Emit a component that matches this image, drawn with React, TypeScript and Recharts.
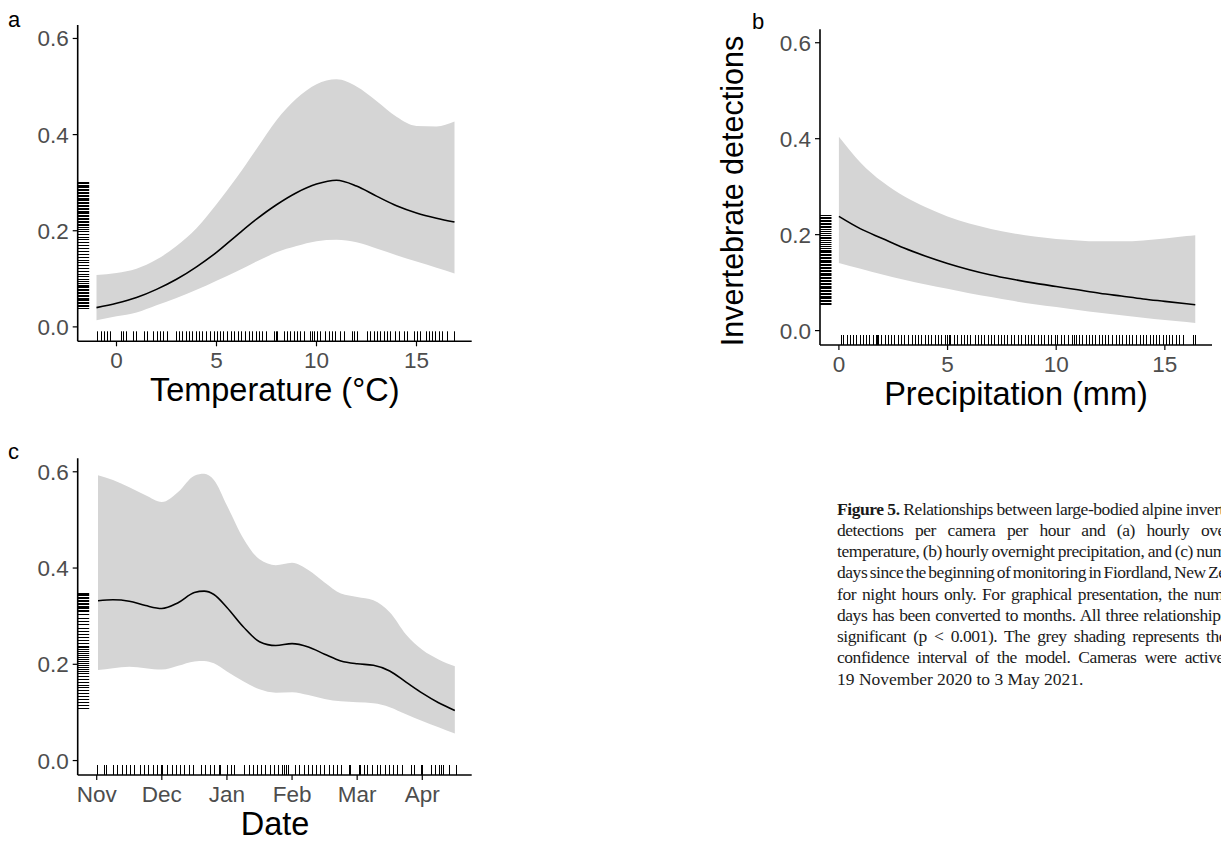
import React from 'react';
import { ComposedChart, Area, Line, Scatter, XAxis, YAxis } from 'recharts';

// ---------- Panel a : Temperature ----------
const tempX = [-1, 0, 1, 2, 3, 4, 5, 6, 7, 8, 9, 10, 11, 12, 13, 14, 15, 16, 16.9];
const tempMean = [0.040, 0.049, 0.061, 0.078, 0.099, 0.125, 0.155, 0.190, 0.224, 0.254, 0.279, 0.297, 0.305, 0.293, 0.272, 0.252, 0.237, 0.226, 0.218];
const tempUpper = [0.108, 0.112, 0.121, 0.140, 0.168, 0.205, 0.255, 0.310, 0.370, 0.430, 0.475, 0.505, 0.515, 0.500, 0.470, 0.437, 0.418, 0.417, 0.427];
const tempLower = [0.014, 0.022, 0.030, 0.045, 0.060, 0.077, 0.096, 0.115, 0.136, 0.155, 0.168, 0.178, 0.181, 0.176, 0.163, 0.149, 0.136, 0.123, 0.111];
const tempTicks = [0, 5, 10, 15];
const tempRugX = [-0.97, -0.77, -0.63, -0.5, -0.33, 0.2, 0.33, 0.47, 0.83, 0.95, 1.37, 1.53, 1.83, 2.03, 2.17, 2.33, 2.5, 2.95, 3.12, 3.28, 3.45, 3.62, 3.78, 3.95, 4.12, 4.28, 4.45, 4.67, 4.87, 5.03, 5.17, 5.33, 5.53, 5.7, 5.87, 6.07, 6.23, 6.45, 6.62, 6.78, 6.95, 7.12, 7.28, 7.45, 7.9, 7.97, 8.03, 8.37, 8.53, 8.7, 8.87, 9.03, 9.2, 9.37, 9.7, 9.78, 9.87, 10.03, 10.2, 10.45, 10.62, 10.78, 10.95, 11.2, 11.37, 11.78, 11.87, 12.03, 12.53, 12.7, 12.87, 13.03, 13.2, 13.37, 13.53, 13.7, 13.95, 14.12, 14.37, 14.53, 14.87, 15.03, 15.2, 15.45, 15.62, 15.78, 15.95, 16.12, 16.28, 16.53, 16.87];
const tempRugY = [0.040, 0.043, 0.046, 0.049, 0.052, 0.055, 0.058, 0.061, 0.064, 0.067, 0.070, 0.073, 0.076, 0.079, 0.082, 0.085, 0.088, 0.091, 0.095, 0.100, 0.105, 0.110, 0.116, 0.122, 0.128, 0.134, 0.140, 0.146, 0.152, 0.158, 0.164, 0.170, 0.176, 0.182, 0.188, 0.194, 0.200, 0.204, 0.208, 0.212, 0.215, 0.218, 0.221, 0.224, 0.227, 0.230, 0.233, 0.236, 0.239, 0.242, 0.245, 0.248, 0.251, 0.254, 0.257, 0.260, 0.263, 0.266, 0.269, 0.272, 0.275, 0.278, 0.281, 0.284, 0.287, 0.290, 0.293, 0.296, 0.299, 0.302];

// ---------- Panel b : Precipitation ----------
const precX = [0, 1, 2, 3, 4, 5, 6, 7, 8, 9, 10, 11, 12, 13, 14, 15, 16, 16.4];
const precMean = [0.238, 0.212, 0.192, 0.172, 0.155, 0.140, 0.127, 0.116, 0.107, 0.099, 0.092, 0.085, 0.078, 0.072, 0.066, 0.061, 0.056, 0.054];
const precUpper = [0.404, 0.350, 0.310, 0.280, 0.257, 0.238, 0.223, 0.212, 0.203, 0.196, 0.191, 0.188, 0.186, 0.186, 0.188, 0.192, 0.197, 0.199];
const precLower = [0.141, 0.129, 0.117, 0.106, 0.096, 0.087, 0.078, 0.070, 0.062, 0.055, 0.049, 0.043, 0.037, 0.032, 0.027, 0.022, 0.018, 0.016];
const precTicks = [0, 5, 10, 15];
const precRugX = [0.08, 0.2, 0.35, 0.5, 0.65, 0.8, 0.95, 1.1, 1.25, 1.4, 1.55, 1.7, 1.74, 1.78, 1.95, 2.1, 2.25, 2.4, 2.55, 2.7, 2.85, 3.0, 3.2, 3.35, 3.5, 3.65, 3.8, 3.95, 4.1, 4.25, 4.4, 4.55, 4.7, 4.9, 4.97, 5.05, 5.12, 5.3, 5.45, 5.6, 5.75, 5.9, 6.05, 6.25, 6.4, 6.55, 6.7, 6.85, 7.0, 7.15, 7.3, 7.45, 7.6, 7.75, 7.9, 8.05, 8.25, 8.4, 8.55, 8.7, 8.85, 9.0, 9.15, 9.3, 9.45, 9.6, 9.75, 9.95, 10.05, 10.2, 10.35, 10.55, 10.75, 10.82, 10.9, 11.05, 11.2, 11.35, 11.5, 11.65, 11.8, 11.95, 12.1, 12.25, 12.4, 12.55, 12.75, 12.9, 13.05, 13.2, 13.35, 13.5, 13.65, 13.85, 14.0, 14.15, 14.3, 14.45, 14.6, 14.75, 14.9, 15.05, 15.2, 15.35, 15.5, 15.65, 15.85, 16.3, 16.4];
const precRugY = [0.055, 0.058, 0.061, 0.064, 0.067, 0.070, 0.073, 0.076, 0.079, 0.082, 0.085, 0.088, 0.091, 0.094, 0.097, 0.100, 0.103, 0.106, 0.109, 0.112, 0.115, 0.118, 0.121, 0.124, 0.127, 0.130, 0.133, 0.136, 0.139, 0.142, 0.145, 0.148, 0.151, 0.154, 0.157, 0.160, 0.163, 0.166, 0.169, 0.172, 0.176, 0.180, 0.184, 0.188, 0.192, 0.196, 0.200, 0.204, 0.208, 0.212, 0.216, 0.219, 0.222, 0.225, 0.228, 0.231, 0.234, 0.237, 0.240];

// ---------- Panel c : Date (months since Nov) ----------
const monthLabels = ['Nov', 'Dec', 'Jan', 'Feb', 'Mar', 'Apr'];
const dateTicks = [0, 1, 2, 3, 4, 5];
const dateX = [0.02, 0.25, 0.5, 0.75, 1.0, 1.25, 1.5, 1.65, 1.8, 2.0, 2.25, 2.5, 2.75, 3.0, 3.25, 3.5, 3.75, 4.0, 4.25, 4.5, 4.75, 5.0, 5.25, 5.5];
const dateMean = [0.332, 0.334, 0.331, 0.322, 0.316, 0.328, 0.349, 0.352, 0.345, 0.318, 0.278, 0.247, 0.239, 0.243, 0.236, 0.221, 0.207, 0.201, 0.198, 0.186, 0.163, 0.140, 0.120, 0.104];
const dateUpper = [0.593, 0.583, 0.568, 0.551, 0.537, 0.558, 0.592, 0.596, 0.583, 0.530, 0.462, 0.418, 0.406, 0.411, 0.396, 0.370, 0.347, 0.340, 0.333, 0.308, 0.262, 0.230, 0.210, 0.196];
const dateLower = [0.188, 0.192, 0.195, 0.192, 0.189, 0.197, 0.206, 0.207, 0.202, 0.185, 0.165, 0.148, 0.141, 0.142, 0.136, 0.128, 0.123, 0.121, 0.119, 0.111, 0.096, 0.082, 0.069, 0.056];
const dateRugX = [0.0, 0.117, 0.143, 0.256, 0.317, 0.384, 0.45, 0.512, 0.574, 0.666, 0.727, 0.794, 0.861, 0.922, 0.984, 1.01, 1.076, 1.153, 1.22, 1.281, 1.343, 1.41, 1.476, 1.599, 1.666, 1.733, 1.794, 1.871, 1.897, 1.999, 2.066, 2.102, 2.266, 2.333, 2.399, 2.461, 2.522, 2.589, 2.656, 2.717, 2.779, 2.845, 2.871, 2.912, 2.933, 3.05, 3.112, 3.179, 3.24, 3.307, 3.374, 3.435, 3.497, 3.563, 3.625, 3.692, 3.753, 3.871, 3.897, 4.025, 4.04, 4.102, 4.153, 4.23, 4.297, 4.358, 4.42, 4.486, 4.553, 4.615, 4.681, 4.82, 4.871, 4.974, 4.999, 5.127, 5.189, 5.255, 5.291, 5.322, 5.41, 5.512];
const dateRugY = [0.110, 0.116, 0.122, 0.128, 0.134, 0.140, 0.146, 0.152, 0.158, 0.164, 0.170, 0.176, 0.182, 0.187, 0.191, 0.195, 0.199, 0.203, 0.207, 0.211, 0.215, 0.219, 0.223, 0.227, 0.231, 0.235, 0.239, 0.245, 0.251, 0.257, 0.263, 0.269, 0.276, 0.283, 0.290, 0.297, 0.304, 0.310, 0.313, 0.316, 0.319, 0.322, 0.325, 0.328, 0.331, 0.334, 0.337, 0.340, 0.343, 0.346, 0.349];

const yTicks = [0, 0.2, 0.4, 0.6];

// ---------- Caption ----------
const captionHead = 'Figure 5.';
const captionFirst = ' Relationships between large-bodied alpine invertebrate';
const captionLines = [
  'detections per camera per hour and (a) hourly overnight',
  'temperature, (b) hourly overnight precipitation, and (c) number of',
  'days since the beginning of monitoring in Fiordland, New Zealand,',
  'for night hours only. For graphical presentation, the number of',
  'days has been converted to months. All three relationships were',
  'significant (p < 0.001). The grey shading represents the 95%',
  'confidence interval of the model. Cameras were active from',
];
const captionLast = '19 November 2020 to 3 May 2021.';

const SANS = '"Liberation Sans", Arial, Helvetica, sans-serif';
const SERIF = '"Liberation Serif", "Times New Roman", serif';
const GREY = '#4D4D4D';
const BAND = '#D5D5D5';
const Y_DOMAIN: [number, number] = [-0.03, 0.628];

const snap = (v: number) => Math.round(v) + 0.5;

const XRugMark = (p: any) => (
  <line x1={snap(p.cx)} x2={snap(p.cx)} y1={p.cy} y2={p.cy - 10} stroke="#000" strokeWidth={1} />
);
const YRugMark = (p: any) => (
  <line x1={p.cx} x2={p.cx + 11.5} y1={snap(p.cy)} y2={snap(p.cy)} stroke="#000" strokeWidth={1} />
);

type PanelProps = {
  left: number;
  top: number;
  width: number;
  height: number;
  marginTop: number;
  marginRight: number;
  yAxisWidth: number;
  xAxisHeight: number;
  xDomain: [number, number];
  xTicks: number[];
  xFormat: (v: number) => string;
  xs: number[];
  mean: number[];
  lower: number[];
  upper: number[];
  rugX: number[];
  rugY: number[];
};

function Panel(props: PanelProps) {
  const rows = props.xs.map((x, i) => ({
    x,
    mean: props.mean[i],
    band: [props.lower[i], props.upper[i]],
  }));
  const rugXData = props.rugX.map((v) => ({ x: v, y: Y_DOMAIN[0] }));
  const rugYData = props.rugY.map((v) => ({ x: props.xDomain[0], y: v }));
  const tickStyle = { fill: GREY, fontSize: 22.5, fontFamily: SANS };
  return (
    <div style={{ position: 'absolute', left: props.left, top: props.top }}>
      <ComposedChart
        width={props.width}
        height={props.height}
        data={rows}
        margin={{ top: props.marginTop, right: props.marginRight, bottom: 0, left: 0 }}
      >
        <XAxis
          type="number"
          dataKey="x"
          domain={props.xDomain}
          allowDataOverflow
          ticks={props.xTicks}
          interval={0}
          tickFormatter={props.xFormat}
          height={props.xAxisHeight}
          tickSize={5}
          tickMargin={6}
          tick={tickStyle}
          axisLine={{ stroke: '#000', strokeWidth: 1.6 }}
          tickLine={{ stroke: '#000', strokeWidth: 1.2 }}
        />
        <YAxis
          type="number"
          domain={Y_DOMAIN}
          allowDataOverflow
          ticks={yTicks}
          interval={0}
          tickFormatter={(v: number) => v.toFixed(1)}
          width={props.yAxisWidth}
          tickSize={5}
          tickMargin={4}
          tick={tickStyle}
          axisLine={{ stroke: '#000', strokeWidth: 1.6 }}
          tickLine={{ stroke: '#000', strokeWidth: 1.2 }}
        />
        <Area
          type="monotone"
          dataKey="band"
          stroke="none"
          fill={BAND}
          fillOpacity={1}
          isAnimationActive={false}
          activeDot={false}
        />
        <Scatter data={rugXData} dataKey="y" shape={XRugMark} isAnimationActive={false} />
        <Scatter data={rugYData} dataKey="y" shape={YRugMark} isAnimationActive={false} />
        <Line
          type="monotone"
          dataKey="mean"
          stroke="#000"
          strokeWidth={1.6}
          dot={false}
          activeDot={false}
          isAnimationActive={false}
        />
      </ComposedChart>
    </div>
  );
}

export default function App() {
  const lineStyle: React.CSSProperties = {
    whiteSpace: 'nowrap',
    textAlign: 'justify',
    textAlignLast: 'justify',
    letterSpacing: '-0.45px',
    wordSpacing: '-1.5px',
  };
  return (
    <div
      style={{
        position: 'absolute',
        left: 0,
        top: 0,
        width: 1221,
        height: 841,
        overflow: 'hidden',
        background: '#fff',
      }}
    >
      <Panel
        left={0}
        top={0}
        width={480}
        height={400}
        marginTop={25}
        marginRight={8.3}
        yAxisWidth={77.7}
        xAxisHeight={58.7}
        xDomain={[-1.94, 17.76]}
        xTicks={tempTicks}
        xFormat={(v) => String(v)}
        xs={tempX}
        mean={tempMean}
        lower={tempLower}
        upper={tempUpper}
        rugX={tempRugX}
        rugY={tempRugY}
      />
      <Panel
        left={700}
        top={0}
        width={521}
        height={400}
        marginTop={29.3}
        marginRight={9}
        yAxisWidth={120}
        xAxisHeight={55}
        xDomain={[-0.87, 17.17]}
        xTicks={precTicks}
        xFormat={(v) => String(v)}
        xs={precX}
        mean={precMean}
        lower={precLower}
        upper={precUpper}
        rugX={precRugX}
        rugY={precRugY}
      />
      <Panel
        left={0}
        top={430}
        width={480}
        height={400}
        marginTop={28.3}
        marginRight={8.3}
        yAxisWidth={77.7}
        xAxisHeight={55}
        xDomain={[-0.292, 5.759]}
        xTicks={dateTicks}
        xFormat={(v) => monthLabels[v] ?? ''}
        xs={dateX}
        mean={dateMean}
        lower={dateLower}
        upper={dateUpper}
        rugX={dateRugX}
        rugY={dateRugY}
      />

      <svg
        width={1221}
        height={841}
        style={{ position: 'absolute', left: 0, top: 0, pointerEvents: 'none' }}
      >
        <g fontFamily={SANS} fill="#000">
          <text x={8} y={27} fontSize={22}>a</text>
          <text x={752} y={29} fontSize={22}>b</text>
          <text x={8} y={459} fontSize={22}>c</text>
          <text x={274.7} y={401} fontSize={32.5} textAnchor="middle">Temperature (°C)</text>
          <text x={1016} y={405} fontSize={32.5} textAnchor="middle">Precipitation (mm)</text>
          <text x={275} y={835} fontSize={32.5} textAnchor="middle">Date</text>
          <text
            x={743.3}
            y={191}
            fontSize={30.5}
            textAnchor="middle"
            transform="rotate(-90 743.3 191)"
          >
            Invertebrate detections
          </text>
        </g>
      </svg>

      <div
        style={{
          position: 'absolute',
          left: 837,
          top: 498.5,
          width: 427,
          fontFamily: SERIF,
          fontSize: 17.5,
          lineHeight: '21.25px',
          color: '#1A1A1A',
        }}
      >
        <div style={lineStyle}>
          <b>{captionHead}</b>
          {captionFirst}
        </div>
        {captionLines.map((t, i) => (
          <div key={i} style={lineStyle}>
            {t}
          </div>
        ))}
        <div style={{ whiteSpace: 'nowrap' }}>{captionLast}</div>
      </div>
    </div>
  );
}
